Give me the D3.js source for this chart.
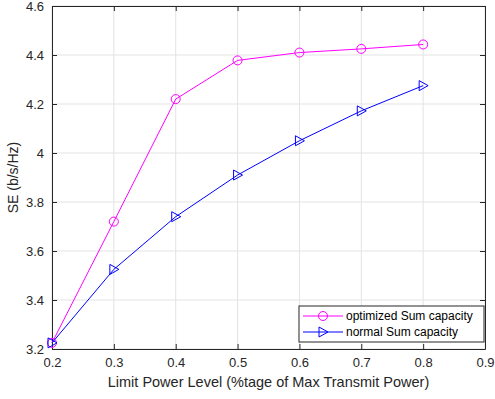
<!DOCTYPE html>
<html>
<head>
<meta charset="utf-8">
<script src="https://cdn.jsdelivr.net/npm/d3@7"></script>
<style>
  body { margin: 0; background: #fff; }
  svg { display: block; font-family: "Liberation Sans", Arial, sans-serif; }
</style>
</head>
<body>
<script>
// data
var xVals = [0.2, 0.3, 0.4, 0.5, 0.6, 0.7, 0.8];
var optimized = [3.225, 3.72, 4.22, 4.378, 4.41, 4.425, 4.443];
var normal = [3.225, 3.525, 3.74, 3.91, 4.05, 4.172, 4.275];
var xTicks = [0.2, 0.3, 0.4, 0.5, 0.6, 0.7, 0.8, 0.9];
var yTicks = [3.2, 3.4, 3.6, 3.8, 4, 4.2, 4.4, 4.6];
var seriesNames = ["optimized Sum capacity", "normal Sum capacity"];

var width = 495, height = 399;
var margin = { top: 6, right: 10, bottom: 50, left: 52 };
var w = width - margin.left - margin.right,
    h = height - margin.top - margin.bottom;

var svg = d3.select("body").append("svg")
  .attr("width", width)
  .attr("height", height);

var g = svg.append("g")
  .attr("transform", "translate(" + margin.left + "," + margin.top + ")");

var x = d3.scaleLinear().domain([0.2, 0.9]).range([0, w]);
var y = d3.scaleLinear().domain([3.2, 4.6]).range([h, 0]);

var axisColor = "#262626";

// grid
g.selectAll(".gx").data(xTicks).enter().append("line")
  .attr("x1", d => x(d)).attr("x2", d => x(d))
  .attr("y1", 0).attr("y2", h)
  .attr("stroke", "#e3e3e3").attr("stroke-width", 1);
g.selectAll(".gy").data(yTicks).enter().append("line")
  .attr("x1", 0).attr("x2", w)
  .attr("y1", d => y(d)).attr("y2", d => y(d))
  .attr("stroke", "#e3e3e3").attr("stroke-width", 1);

// axes (ticks inside, box on all sides)
function styleAxis(sel) {
  sel.selectAll("path").attr("stroke", axisColor);
  sel.selectAll("line").attr("stroke", axisColor);
  sel.selectAll("text").attr("fill", axisColor).style("font-size", "13px");
}
var fmt = d => d3.format("")(+d.toFixed(1));

g.append("g").attr("transform", "translate(0," + h + ")")
  .call(d3.axisBottom(x).tickValues(xTicks).tickFormat(fmt).tickSizeInner(-5).tickSizeOuter(0).tickPadding(9))
  .call(styleAxis);
g.append("g")
  .call(d3.axisTop(x).tickValues(xTicks).tickFormat("").tickSizeInner(-5).tickSizeOuter(0))
  .call(styleAxis);
g.append("g")
  .call(d3.axisLeft(y).tickValues(yTicks).tickFormat(fmt).tickSizeInner(-5).tickSizeOuter(0).tickPadding(8))
  .call(styleAxis);
g.append("g").attr("transform", "translate(" + w + ",0)")
  .call(d3.axisRight(y).tickValues(yTicks).tickFormat("").tickSizeInner(-5).tickSizeOuter(0))
  .call(styleAxis);

// axis labels
svg.append("text")
  .attr("x", margin.left + w / 2)
  .attr("y", 387)
  .attr("text-anchor", "middle")
  .attr("fill", axisColor)
  .style("font-size", "14.5px")
  .text("Limit Power Level (%tage of Max Transmit Power)");

svg.append("text")
  .attr("transform", "translate(18," + (margin.top + h / 2) + ") rotate(-90)")
  .attr("text-anchor", "middle")
  .attr("fill", axisColor)
  .style("font-size", "14px")
  .text("SE (b/s/Hz)");

var colors = ["#ff00ff", "#0000ff"];
var line = d3.line().x(d => x(d[0])).y(d => y(d[1]));

function triangle(sel) {
  // right-pointing triangle marker
  sel.attr("d", "M-4,-5L5,0L-4,5Z");
}

// optimized series
var optData = xVals.map((v, i) => [v, optimized[i]]);
g.append("path").datum(optData)
  .attr("d", line).attr("fill", "none")
  .attr("stroke", colors[0]).attr("stroke-width", 1);
g.selectAll(".c").data(optData).enter().append("circle")
  .attr("cx", d => x(d[0])).attr("cy", d => y(d[1])).attr("r", 4.5)
  .attr("fill", "none").attr("stroke", colors[0]).attr("stroke-width", 1);

// normal series
var normData = xVals.map((v, i) => [v, normal[i]]);
g.append("path").datum(normData)
  .attr("d", line).attr("fill", "none")
  .attr("stroke", colors[1]).attr("stroke-width", 1);
g.selectAll(".t").data(normData).enter().append("path")
  .attr("transform", d => "translate(" + x(d[0]) + "," + y(d[1]) + ")")
  .call(triangle)
  .attr("fill", "none").attr("stroke", colors[1]).attr("stroke-width", 1);

// legend
var lg = svg.append("g").attr("transform", "translate(299,306)");
lg.append("rect").attr("width", 185).attr("height", 36)
  .attr("fill", "#fff").attr("stroke", axisColor).attr("stroke-width", 1);

seriesNames.forEach(function (name, i) {
  var yy = 10 + i * 16;
  lg.append("line").attr("x1", 4).attr("x2", 44).attr("y1", yy).attr("y2", yy)
    .attr("stroke", colors[i]).attr("stroke-width", 1);
  if (i === 0) {
    lg.append("circle").attr("cx", 24).attr("cy", yy).attr("r", 4.5)
      .attr("fill", "none").attr("stroke", colors[i]);
  } else {
    lg.append("path").attr("transform", "translate(24," + yy + ")")
      .call(triangle).attr("fill", "none").attr("stroke", colors[i]);
  }
  lg.append("text").attr("x", 47).attr("y", yy + 4)
    .attr("fill", "#000").style("font-size", "12px")
    .text(name);
});
</script>
</body>
</html>
